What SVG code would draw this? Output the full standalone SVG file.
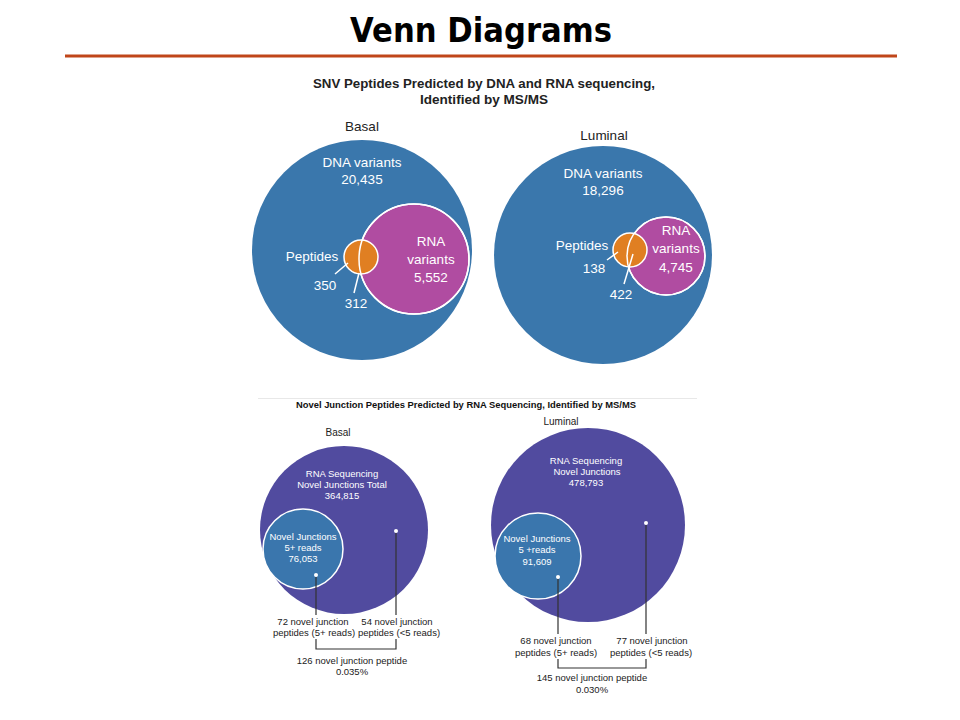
<svg xmlns="http://www.w3.org/2000/svg" width="960" height="720" viewBox="0 0 960 720">
<style>
text{font-family:"Liberation Sans",Arial,sans-serif;text-anchor:middle}
.w{fill:#fff}
.k{fill:#222}
.t1{font-size:13.5px}
.t2{font-size:9.5px}
.t3{font-size:10px}
.hd{font-weight:bold;font-size:12.5px;fill:#222}
.ln{stroke:#fff;stroke-width:1.5;fill:none}
.bl{stroke:#333;stroke-width:1.2;fill:none}
.blue{fill:#3a77ac}
.mag{fill:#b04ca1;stroke:#fff;stroke-width:1.5}
.org{fill:#e07f22;stroke:#fff;stroke-width:1.5}
.pur{fill:#514b9f}
.inn{fill:#3a76ad;stroke:#fff;stroke-width:1.5}
</style>
<rect width="960" height="720" fill="#fff"/>
<text x="481" y="42" style="font-family:'Comic Sans MS','DejaVu Sans',sans-serif;font-size:33px;font-weight:bold" fill="#000" textLength="262" lengthAdjust="spacingAndGlyphs">Venn Diagrams</text>
<rect x="65" y="54.5" width="832" height="3" fill="#c0461a"/>
<text class="hd" x="484" y="88" textLength="342" lengthAdjust="spacingAndGlyphs">SNV Peptides Predicted by DNA and RNA sequencing,</text>
<text class="hd" x="484" y="104" textLength="128" lengthAdjust="spacingAndGlyphs">Identified by MS/MS</text>

<g id="snv-basal">
<text class="k t1" x="362" y="131">Basal</text>
<circle class="blue" cx="362" cy="250" r="110"/>
<circle class="mag" cx="414" cy="259" r="55"/>
<circle class="org" cx="361" cy="257" r="17"/>
<circle cx="414" cy="259" r="55" fill="none" stroke="#fff" stroke-width="1.5"/>
<text class="w t1" x="362" y="167">DNA variants</text>
<text class="w t1" x="362" y="184">20,435</text>
<text class="w t1" x="312" y="261">Peptides</text>
<text class="w t1" x="325" y="290">350</text>
<text class="w t1" x="356" y="308">312</text>
<text class="w t1" x="431" y="246">RNA</text>
<text class="w t1" x="431" y="264">variants</text>
<text class="w t1" x="431" y="282">5,552</text>
<path class="ln" d="M335 274L348 263M354 293L359 273"/>
</g>

<g id="snv-luminal">
<text class="k t1" x="604" y="140">Luminal</text>
<circle class="blue" cx="603" cy="255" r="109"/>
<circle class="mag" cx="666" cy="256" r="39"/>
<circle class="org" cx="630" cy="250" r="17"/>
<circle cx="666" cy="256" r="39" fill="none" stroke="#fff" stroke-width="1.5"/>
<text class="w t1" x="603" y="178">DNA variants</text>
<text class="w t1" x="603" y="195">18,296</text>
<text class="w t1" x="582" y="250">Peptides</text>
<text class="w t1" x="594" y="273">138</text>
<text class="w t1" x="621" y="299">422</text>
<text class="w t1" x="676" y="235">RNA</text>
<text class="w t1" x="676" y="253">variants</text>
<text class="w t1" x="676" y="272">4,745</text>
<path class="ln" d="M607 260L618 252M624 284L633 254"/>
</g>

<line x1="258" y1="398.5" x2="697" y2="398.5" stroke="#e8e8e8" stroke-width="1"/>
<text x="466" y="408" style="font-weight:bold;font-size:9.5px" fill="#111" textLength="340" lengthAdjust="spacingAndGlyphs">Novel Junction Peptides Predicted by RNA Sequencing, Identified by MS/MS</text>

<g id="nj-basal">
<text class="k t3" x="338" y="436">Basal</text>
<circle class="pur" cx="344" cy="530" r="84"/>
<circle class="inn" cx="303" cy="549" r="40"/>
<text class="w t2" x="342" y="477">RNA Sequencing</text>
<text class="w t2" x="342" y="488">Novel Junctions Total</text>
<text class="w t2" x="342" y="499">364,815</text>
<text class="w t2" x="303" y="540">Novel Junctions</text>
<text class="w t2" x="303" y="551">5+ reads</text>
<text class="w t2" x="303" y="562">76,053</text>
<circle cx="316" cy="575" r="2" fill="#fff"/>
<circle cx="396" cy="531" r="2" fill="#fff"/>
<text class="k t2" x="313" y="625">72 novel junction</text>
<text class="k t2" x="314" y="636">peptides (5+ reads)</text>
<text class="k t2" x="397" y="625">54 novel junction</text>
<text class="k t2" x="399" y="636">peptides (&lt;5 reads)</text>
<text class="k t2" x="352" y="664">126 novel junction peptide</text>
<text class="k t2" x="352" y="675">0.035%</text>
</g>

<g id="nj-luminal">
<text class="k t3" x="561" y="425">Luminal</text>
<circle class="pur" cx="588" cy="525" r="97"/>
<circle class="inn" cx="538" cy="556" r="43"/>
<text class="w t2" x="586" y="464">RNA Sequencing</text>
<text class="w t2" x="587" y="475">Novel Junctions</text>
<text class="w t2" x="586" y="486">478,793</text>
<text class="w t2" x="537" y="542">Novel Junctions</text>
<text class="w t2" x="537" y="553">5 +reads</text>
<text class="w t2" x="537" y="565">91,609</text>
<circle cx="558" cy="577" r="2" fill="#fff"/>
<circle cx="646" cy="523" r="2" fill="#fff"/>
<text class="k t2" x="556" y="644">68 novel junction</text>
<text class="k t2" x="556" y="656">peptides (5+ reads)</text>
<text class="k t2" x="652" y="644">77 novel junction</text>
<text class="k t2" x="651" y="656">peptides (&lt;5 reads)</text>
<text class="k t2" x="592" y="681">145 novel junction peptide</text>
<text class="k t2" x="592" y="693">0.030%</text>
</g>

<g id="connectors">
<path class="bl" d="M316 577V615M396 533V615M316 639V649H396V639"/>
<path class="bl" d="M558 579V634M646 525V634M558 659V668H646V659"/>
</g>
</svg>
